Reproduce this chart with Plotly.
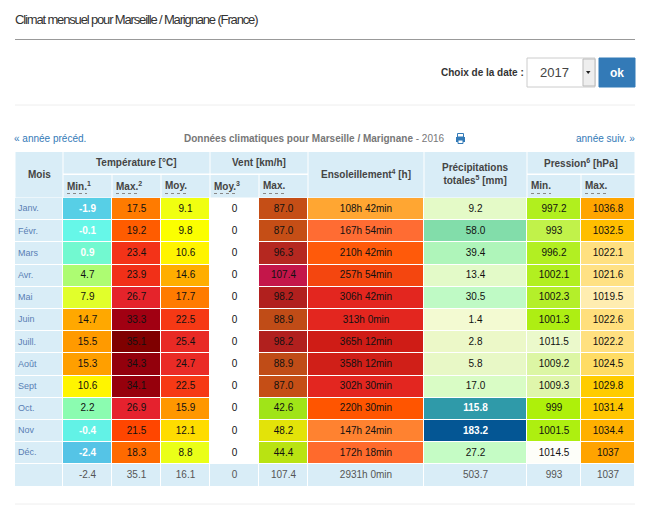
import plotly.graph_objects as go

W, H = 650, 506
FONT = "Liberation Sans"

# donnees
mois = ['Janv.', 'Févr.', 'Mars', 'Avr.', 'Mai', 'Juin', 'Juill.', 'Août', 'Sept', 'Oct.', 'Nov', 'Déc.']
temp_min = ['-1.9', '-0.1', '0.9', '4.7', '7.9', '14.7', '15.5', '15.3', '10.6', '2.2', '-0.4', '-2.4']
temp_max = ['17.5', '19.2', '23.4', '23.9', '26.7', '33.3', '35.1', '34.3', '34.1', '26.9', '21.5', '18.3']
temp_moy = ['9.1', '9.8', '10.6', '14.6', '17.7', '22.5', '25.4', '24.7', '22.5', '15.9', '12.1', '8.8']
vent_moy = ['0'] * 12
vent_max = ['87.0', '87.0', '96.3', '107.4', '98.2', '88.9', '98.2', '88.9', '87.0', '42.6', '48.2', '44.4']
soleil = ['108h 42min', '167h 54min', '210h 42min', '257h 54min', '306h 42min', '313h 0min',
          '365h 12min', '358h 12min', '302h 30min', '220h 30min', '147h 24min', '172h 18min']
precip = ['9.2', '58.0', '39.4', '13.4', '30.5', '1.4', '2.8', '5.8', '17.0', '115.8', '183.2', '27.2']
pres_min = ['997.2', '993', '996.2', '1002.1', '1002.3', '1001.3', '1011.5', '1009.2', '1009.3', '999', '1001.5', '1014.5']
pres_max = ['1036.8', '1032.5', '1022.1', '1021.6', '1019.5', '1022.6', '1022.2', '1024.5', '1029.8', '1031.4', '1034.4', '1037']
totaux = ['-2.4', '35.1', '16.1', '0', '107.4', '2931h 0min', '503.7', '993', '1037']

# couleurs des cellules
c_temp_min = ['#57cfe6', '#66f7e8', '#72f9d0', '#adfc72', '#e1ff2b', '#ffa800', '#ff9a00', '#ff9f00', '#fff500', '#8bfcb0', '#62f2e6', '#55c4e6']
c_temp_max = ['#ff7b00', '#ff5c00', '#f33318', '#f13018', '#e5242b', '#a10012', '#7f0000', '#93000c', '#96000c', '#e5222e', '#ff4600', '#ff6a00']
c_temp_moy = ['#f0ff10', '#fbff00', '#fff400', '#ffae00', '#ff7b00', '#f63915', '#e82a25', '#ea2b26', '#f63915', '#ff9700', '#ffdc00', '#eaff18']
c_vent_moy = ['#ffffff'] * 12
c_vent_max = ['#c54e16', '#c54e16', '#b52820', '#c4164a', '#b1201e', '#c04c17', '#b1201e', '#c04c17', '#c54e16', '#a0e418', '#e3e309', '#b9e312']
c_soleil = ['#ffa632', '#ff6c33', '#ff5a0a', '#f4460f', '#e3261f', '#e3261f', '#cf1c16', '#d01f18', '#e32620', '#ff5500', '#ff8230', '#ff6a2c']
c_precip = ['#e4fac7', '#82ddaa', '#aff5ba', '#e3fac8', '#bffac5', '#f3fad2', '#ecf8c8', '#e8f8c6', '#d9fcc5', '#2f9aa9', '#045694', '#c5fcc5']
c_pres_min = ['#b1ef1e', '#c1f24a', '#b2ef22', '#b2ef20', '#b4ef2a', '#aeee13', '#ebf9cb', '#dcf6a4', '#dff6ab', '#aef00a', '#aeef10', '#fdfef9']
c_pres_max = ['#ffa500', '#ffbe00', '#ffe080', '#ffe184', '#ffedb0', '#ffdf7c', '#ffe080', '#ffdc64', '#ffcc00', '#ffc600', '#ffb000', '#ffa300']

BLEU_TETE = '#d9edf7'
LIEN = '#337ab7'
TEXTE = '#333333'

# bords des colonnes et des lignes, en pixels
bords = [15, 63, 112, 161, 210, 259, 308, 424, 527, 581, 635]
haut_corps, bas_corps = 198, 486.5
haut_ligne = (bas_corps - haut_corps) / 13
lignes = [haut_corps + i * haut_ligne for i in range(14)]
milieux_x = [(bords[i] + bords[i + 1]) / 2 for i in range(10)]
milieux_y = [(lignes[i] + lignes[i + 1]) / 2 for i in range(13)]

colonnes = [temp_min, temp_max, temp_moy, vent_moy, vent_max, soleil, precip, pres_min, pres_max]
couleurs = [c_temp_min, c_temp_max, c_temp_moy, c_vent_moy, c_vent_max, c_soleil, c_precip, c_pres_min, c_pres_max]

# palette : chaque cellule pointe vers sa couleur
palette = [BLEU_TETE]
z = [[0] for _ in range(13)]
for col in couleurs:
    for r, c in enumerate(col):
        palette.append(c)
        z[r].append(len(palette) - 1)
    z[12].append(0)
echelle = [[i / (len(palette) - 1), c] for i, c in enumerate(palette)]

fig = go.Figure()
fig.add_trace(go.Heatmap(x=bords, y=lignes, z=z, zmin=0, zmax=len(palette) - 1, colorscale=echelle,
                         showscale=False, xgap=1, ygap=1, hoverinfo='skip'))

# valeurs des cellules
blancs = {'-1.9', '-0.1', '0.9', '-0.4', '-2.4', '115.8', '183.2'}
xs, ys, textes, encres = [], [], [], []
for j, col in enumerate(colonnes):
    for r, v in enumerate(col + [totaux[j]]):
        xs.append(milieux_x[j + 1])
        ys.append(milieux_y[r])
        if r == 12:
            textes.append(v)
            encres.append('#555555')
        elif v in blancs:
            textes.append(f'<b>{v}</b>')
            encres.append('#ffffff')
        else:
            textes.append(v)
            encres.append('#111111')
fig.add_trace(go.Scatter(x=xs, y=ys, text=textes, mode='text', textposition='middle center', hoverinfo='skip',
                         textfont=dict(family=FONT, size=10, color=encres)))

# mois
fig.add_trace(go.Scatter(x=[18] * 12, y=milieux_y[:12], text=mois, mode='text', textposition='middle right',
                         hoverinfo='skip', textfont=dict(family=FONT, size=9, color='#5a7fb5')))

formes = []


def rect(x0, x1, y0, y1, fond, bord=None, largeur=0):
    formes.append(dict(type='rect', x0=x0, x1=x1, y0=y0, y1=y1, fillcolor=fond,
                       line=dict(color=bord or fond, width=largeur)))


def filet(x0, x1, y, couleur, dash='solid'):
    formes.append(dict(type='line', x0=x0, x1=x1, y0=y, y1=y, line=dict(color=couleur, width=1, dash=dash)))


# en-tetes
groupes = [
    ('Mois', 0, 1, 152, 197.5, 174),
    ('Température [°C]', 1, 4, 152, 173.5, 162.5),
    ('Vent [km/h]', 4, 6, 152, 173.5, 162.5),
    ('Ensoleillement<sup>4</sup> [h]', 6, 7, 152, 197.5, 174),
    ('Précipitations<br>totales<sup>5</sup> [mm]', 7, 8, 152, 197.5, 174),
    ('Pression<sup>6</sup> [hPa]', 8, 10, 152, 173.5, 162.5),
]
sous_titres = [('Min.<sup>1</sup>', 1, 20), ('Max.<sup>2</sup>', 2, 21), ('Moy.', 3, 21), ('Moy.<sup>3</sup>', 4, 21),
               ('Max.', 5, 21), ('Min.', 8, 20), ('Max.', 9, 21)]
annotations = []


def texte(x, y, t, taille=10, couleur=TEXTE, ancre='left'):
    annotations.append(dict(text=t, x=x, y=y, xanchor=ancre, yanchor='middle', showarrow=False,
                            font=dict(family=FONT, size=taille, color=couleur)))


for t, a, b, y0, y1, yt in groupes:
    rect(bords[a] + 0.5, bords[b] - 0.5, y0, y1, BLEU_TETE)
    texte((bords[a] + bords[b]) / 2, yt, f'<b>{t}</b>', 10, '#444444', 'center')
for t, i, large in sous_titres:
    rect(bords[i] + 0.5, bords[i + 1] - 0.5, 175, 197.5, BLEU_TETE)
    texte(bords[i] + 2, 185.5, f'<b>{t}</b>', 10, '#444444')
    filet(bords[i] + 4, bords[i] + 4 + large, 193.5, '#888888', 'dot')

# filets
filet(15, 635, 39.5, '#999999')
filet(15, 635, 105, '#eeeeee')
filet(15, 635, 504, '#eeeeee')

# liste deroulante et bouton
rect(527, 595, 58, 87, 'white', '#cccccc', 1)
rect(583, 595, 59, 86, '#eeeeee', '#bbbbbb', 1)
formes.append(dict(type='path', path='M 586 71 L 590.5 71 L 588.2 74 Z', fillcolor='#222222', line_width=0))
rect(599, 635, 58, 87, LIEN, LIEN, 1)

# icone imprimante
rect(456, 465, 137, 142, LIEN)
rect(457.5, 463.5, 133.5, 137, 'white', LIEN, 1)
rect(458, 463, 140, 143.5, 'white', LIEN, 1)

texte(12.5, 19, '<span style="letter-spacing:-1.15px">Climat mensuel pour Marseille / Marignane (France)</span>', 13)
texte(526, 72, '<b>Choix de la date :</b>', 10, TEXTE, 'right')
texte(554, 72.5, '2017', 13, '#444444', 'center')
texte(617, 72.5, '<b>ok</b>', 12, 'white', 'center')
texte(12, 138, '« année précéd.', 10, LIEN)
texte(182, 138, '<b>Données climatiques pour Marseille / Marignane</b> - 2016', 10, '#777777')
texte(637, 138, 'année suiv. »', 10, LIEN, 'right')

fig.update_layout(
    width=W, height=H, margin=dict(l=0, r=0, t=0, b=0),
    paper_bgcolor='white', plot_bgcolor='white', showlegend=False,
    xaxis=dict(range=[0, W], visible=False, fixedrange=True),
    yaxis=dict(range=[H, 0], visible=False, fixedrange=True),
    shapes=formes, annotations=annotations,
)

fig.write_html("out.html", config=dict(displayModeBar=False),
               post_script="document.body.style.margin='0';document.body.style.overflow='hidden';")
